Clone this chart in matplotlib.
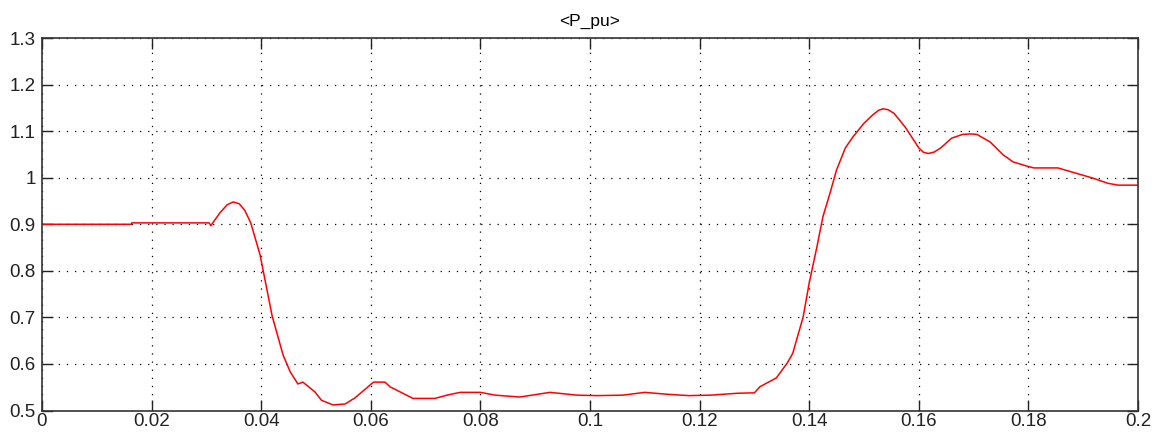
import matplotlib
matplotlib.use('Agg')
import matplotlib.pyplot as plt

# scope trace <P_pu>
t = [0.0, 0.0163, 0.0164, 0.0305, 0.0308, 0.0325, 0.0338, 0.0349, 0.036, 0.037,
     0.0381, 0.0398, 0.042, 0.044, 0.0453, 0.0467, 0.0476, 0.0498, 0.051, 0.0531,
     0.0553, 0.0571, 0.059, 0.0605, 0.0626, 0.0635, 0.0677, 0.0717, 0.0739, 0.0763,
     0.08, 0.0827, 0.0872, 0.0927, 0.0976, 0.1013, 0.106, 0.11, 0.114, 0.118,
     0.122, 0.1268, 0.130, 0.131, 0.134, 0.136, 0.137, 0.1389, 0.140, 0.1414,
     0.1425, 0.1438, 0.145, 0.1466, 0.148, 0.150, 0.1516, 0.1527, 0.1535, 0.1544,
     0.1555, 0.1575, 0.160, 0.1608, 0.1617, 0.1628, 0.164, 0.166, 0.168, 0.1694,
     0.1706, 0.173, 0.1754, 0.1772, 0.1797, 0.181, 0.1854, 0.188, 0.1918, 0.1945,
     0.1964, 0.2]
p = [0.900, 0.900, 0.903, 0.903, 0.897, 0.925, 0.942, 0.948, 0.944, 0.930,
     0.903, 0.834, 0.703, 0.619, 0.583, 0.557, 0.561, 0.540, 0.522, 0.512,
     0.514, 0.527, 0.546, 0.561, 0.561, 0.551, 0.526, 0.526, 0.533, 0.539,
     0.539, 0.533, 0.529, 0.539, 0.533, 0.532, 0.533, 0.539, 0.535, 0.532,
     0.533, 0.537, 0.538, 0.551, 0.570, 0.602, 0.623, 0.701, 0.774, 0.851,
     0.916, 0.967, 1.017, 1.064, 1.088, 1.117, 1.135, 1.145, 1.148, 1.146,
     1.138, 1.109, 1.064, 1.055, 1.052, 1.055, 1.064, 1.085, 1.093, 1.094,
     1.093, 1.077, 1.049, 1.034, 1.025, 1.021, 1.021, 1.012, 0.999, 0.988,
     0.984, 0.984]

xticks = [0, 0.02, 0.04, 0.06, 0.08, 0.1, 0.12, 0.14, 0.16, 0.18, 0.2]
xlabels = ['0', '0.02', '0.04', '0.06', '0.08', '0.1', '0.12', '0.14', '0.16', '0.18', '0.2']
yticks = [0.5, 0.6, 0.7, 0.8, 0.9, 1.0, 1.1, 1.2, 1.3]
ylabels = ['0.5', '0.6', '0.7', '0.8', '0.9', '1', '1.1', '1.2', '1.3']

plt.rcParams['font.family'] = ['Liberation Sans', 'DejaVu Sans']

fig = plt.figure(figsize=(11.63, 4.37), dpi=100)
ax = fig.add_axes([0.0361, 0.0606, 0.9424, 0.8524])
ax.plot(t, p, color='#ff0000', linewidth=1.1)

ax.set_xlim(0, 0.2)
ax.set_ylim(0.5, 1.3)
ax.set_xticks(xticks)
ax.set_xticklabels(xlabels)
ax.set_yticks(yticks)
ax.set_yticklabels(ylabels)
ax.tick_params(direction='in', length=8, width=1, top=True, right=True,
               labelsize=13.5, colors='#222222')
ax.tick_params(axis='x', pad=2)
ax.tick_params(axis='y', pad=4.5)
ax.grid(True, linestyle=(0, (1, 5.5)), color='black', linewidth=0.9)
for s in ax.spines.values():
    s.set_linewidth(1.2)
    s.set_color('#333333')

ax.set_title('<P_pu>', fontsize=12.5, pad=9)

fig.savefig('out.png', dpi=100)
